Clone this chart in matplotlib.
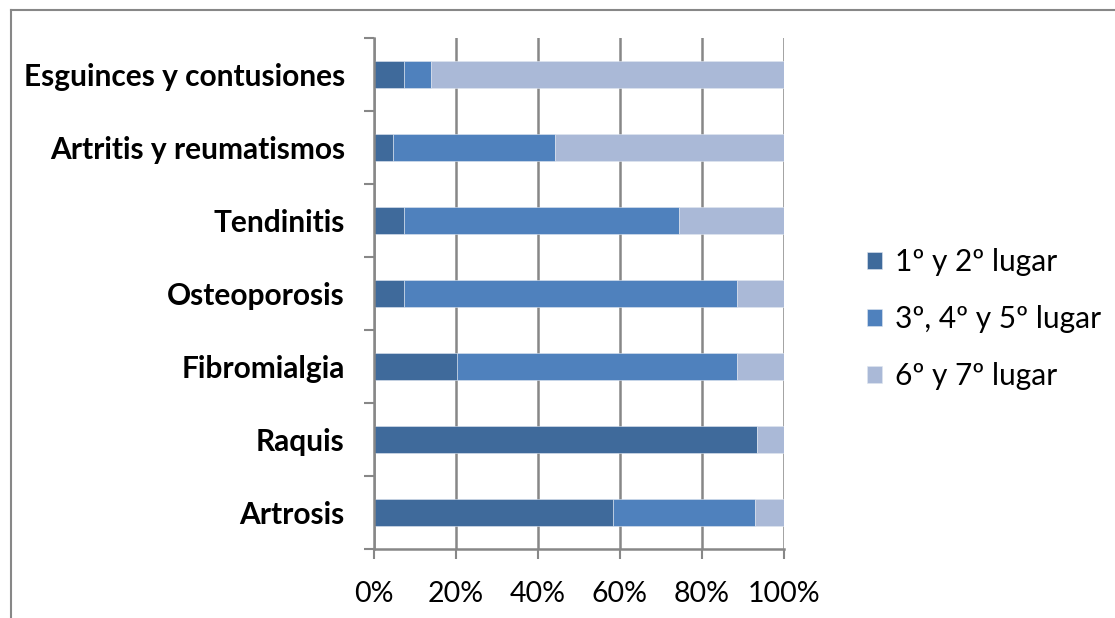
import matplotlib.pyplot as plt
from matplotlib.lines import Line2D
import numpy as np

categories = ['Artrosis', 'Raquis', 'Fibromialgia', 'Osteoporosis',
              'Tendinitis', 'Artritis y reumatismos', 'Esguinces y contusiones']
first_second = [58.4, 93.4, 20.2, 7.2, 7.2, 4.7, 7.2]
third_fifth = [34.5, 0.0, 68.3, 81.3, 67.2, 39.4, 6.7]
sixth_seventh = [7.1, 6.6, 11.5, 11.5, 25.6, 55.9, 86.1]
series_names = ['1º y 2º lugar', '3º, 4º y 5º lugar', '6º y 7º lugar']
xticks = [0, 20, 40, 60, 80, 100]

colors = ['#3F6A9B', '#4F81BD', '#AAB9D7']
grid_col = '#878787'

plt.rcParams['font.family'] = ['Lato', 'DejaVu Sans']

fig = plt.figure(figsize=(11.15, 6.18), dpi=100)
ax = fig.add_axes([374 / 1115, 1 - 549 / 618, 410 / 1115, 511 / 618])

y = np.arange(len(categories))
left = np.zeros(len(categories))
for vals, name, col in zip([first_second, third_fifth, sixth_seventh], series_names, colors):
    ax.barh(y, vals, left=left, height=0.38, color=col, label=name,
            edgecolor='#dfe6f0', linewidth=0.4, zorder=2)
    left = left + np.array(vals)

ax.set_xlim(0, 100)
ax.set_ylim(-0.5, len(categories) - 0.5)
ax.set_xticks(xticks)
ax.set_xticklabels([f'{t}%' for t in xticks], fontsize=20.5)
ax.set_yticks(y)
ax.set_yticklabels(categories, fontsize=21.5, fontweight='bold')
ax.set_yticks(np.arange(-0.5, len(categories), 1), minor=True)
ax.tick_params(axis='y', which='major', length=0, pad=21)
ax.tick_params(axis='y', which='minor', length=7, width=1.5, color=grid_col)
ax.tick_params(axis='x', length=7, width=1.5, color=grid_col, pad=16, direction='out')

ax.grid(axis='x', color=grid_col, linewidth=1.8, zorder=0)
ax.set_axisbelow(True)
for s in ['top', 'right']:
    ax.spines[s].set_visible(False)
for s in ['left', 'bottom']:
    ax.spines[s].set_color(grid_col)
    ax.spines[s].set_linewidth(1.8)

leg = ax.legend(loc='center left', bbox_to_anchor=(1.137, 0.45), frameon=False,
                fontsize=21.5, handlelength=0.5, handleheight=0.5,
                handletextpad=0.45, labelspacing=0.96)

# outer chart frame (top and left edges visible)
fig.add_artist(Line2D([11 / 1115, 11 / 1115], [0, 1 - 10 / 618],
                      color=grid_col, linewidth=1.5))
fig.add_artist(Line2D([11 / 1115, 1], [1 - 10 / 618, 1 - 10 / 618],
                      color=grid_col, linewidth=1.5))

fig.savefig('out.png', dpi=100)
